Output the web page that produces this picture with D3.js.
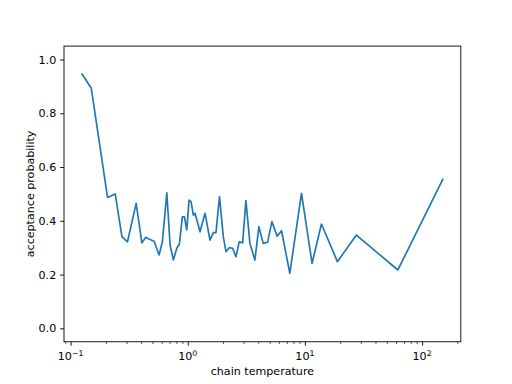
<!DOCTYPE html>
<html>
<head>
<meta charset="utf-8">
<script src="https://cdn.jsdelivr.net/npm/d3@7"></script>
<style>
body{margin:0;background:#fff;}
svg{font-family:"DejaVu Sans",sans-serif;}
</style>
</head>
<body>
<div class="canvas"></div>
<script>
// chain temperatures and acceptance probabilities
const temps = [0.1252,0.1502,0.2067,0.2404,0.2741,0.3059,0.3628,0.4058,0.4388,0.4710,
  0.5164,0.5695,0.6075,0.6626,0.7069,0.7539,0.8059,0.8482,0.8995,0.9355,
  0.9806,1.026,1.067,1.116,1.154,1.273,1.404,1.548,1.652,1.742,
  1.866,2.010,2.120,2.261,2.416,2.578,2.750,2.940,3.137,3.393,
  3.742,4.048,4.404,4.800,5.224,5.794,6.317,7.433,9.350,11.51,
  13.84,18.94,27.50,62.15,150.2];
const accept = [0.946,0.893,0.487,0.500,0.341,0.322,0.465,0.318,0.339,0.331,
  0.324,0.273,0.322,0.504,0.310,0.254,0.298,0.313,0.415,0.415,
  0.366,0.477,0.471,0.421,0.428,0.359,0.428,0.328,0.356,0.356,
  0.490,0.341,0.285,0.300,0.298,0.266,0.322,0.318,0.475,0.316,
  0.254,0.378,0.316,0.320,0.397,0.343,0.363,0.205,0.502,0.242,
  0.388,0.248,0.347,0.217,0.554];
const yTicks = [0,0.2,0.4,0.6,0.8,1.0];
const xDecades = [-1,0,1,2];

const data = temps.map((t,i)=>({t:t, p:accept[i]}));

const svg = d3.select('.canvas')
.append('svg')
    .attr('width',512)
    .attr('height',384);

const margin = {top:46.08, right:51.2, bottom:42.24, left:64};
const graphWidth = 512 - margin.left - margin.right;
const graphHeight = 384 - margin.top - margin.bottom;

const graph = svg.append('g')
.attr('transform',`translate(${margin.left},${margin.top})`);

// log x with matplotlib-style 5% margins
const lo = Math.log10(d3.min(temps)), hi = Math.log10(d3.max(temps));
const pad = (hi-lo)*0.05;
const x = d3.scaleLog()
.domain([Math.pow(10,lo-pad), Math.pow(10,hi+pad)])
.range([0,graphWidth]);
const y = d3.scaleLinear()
.domain([-0.05,1.05])
.range([graphHeight,0]);

// line
const line = d3.line()
.x(d=>x(d.t))
.y(d=>y(d.p));
graph.append('path')
.datum(data)
.attr('fill','none')
.attr('stroke','#1f77b4')
.attr('stroke-width',1.67)
.attr('stroke-linejoin','round')
.attr('stroke-linecap','square')
.attr('d',line);

// minor ticks on x
const minor = [];
xDecades.concat([-2]).forEach(k=>{
  for(let m=2;m<10;m++){
    const v = m*Math.pow(10,k);
    if(v>=x.domain()[0] && v<=x.domain()[1]) minor.push(v);
  }
});

const xAxisGroup = graph.append('g')
.attr('transform',`translate(0,${graphHeight})`);
const xMinor = d3.axisBottom(x).tickValues(minor).tickSize(2.2).tickFormat('');
xAxisGroup.append('g').call(xMinor);
const xAxis = d3.axisBottom(x)
.tickValues(xDecades.map(k=>Math.pow(10,k)))
.tickSize(3.9).tickPadding(3.9)
.tickFormat('');
xAxisGroup.append('g').call(xAxis);
xAxisGroup.selectAll('.domain').remove();
xAxisGroup.selectAll('line').attr('stroke','#000').attr('stroke-width',0.9);
xAxisGroup.selectAll('g > g.tick line').filter(function(){return +d3.select(this).attr('y2')<3;}).attr('stroke-width',0.67);

// decade labels as 10^k
const xl = xAxisGroup.selectAll('.declabel')
.data(xDecades)
.enter()
.append('text')
.attr('x',d=>x(Math.pow(10,d)))
.attr('y',18.5)
.attr('text-anchor','middle')
.attr('font-size','11.1px')
.attr('fill','#000');
xl.append('tspan').text('10');
xl.append('tspan')
.attr('dy',-4.6)
.attr('font-size','7.8px')
.text(d=>d<0 ? '\u2212'+Math.abs(d) : d);

const yAxisGroup = graph.append('g');
const yAxis = d3.axisLeft(y)
.tickValues(yTicks)
.tickSize(3.9).tickPadding(3.9)
.tickFormat(d3.format('.1f'));
yAxisGroup.call(yAxis);
yAxisGroup.select('.domain').remove();
yAxisGroup.selectAll('line').attr('stroke','#000').attr('stroke-width',0.9);
yAxisGroup.selectAll('text')
.attr('font-size','11.1px')
.attr('fill','#000')
.style('font-family','DejaVu Sans');

// spines
graph.append('rect')
.attr('width',graphWidth)
.attr('height',graphHeight)
.attr('fill','none')
.attr('stroke','#000')
.attr('stroke-width',0.9);

// axis labels
svg.append('text')
.attr('x',margin.left+graphWidth/2)
.attr('y',375)
.attr('text-anchor','middle')
.attr('font-size','11.1px')
.text('chain temperature');
svg.append('text')
.attr('transform',`translate(34,${margin.top+graphHeight/2}) rotate(-90)`)
.attr('text-anchor','middle')
.attr('font-size','11.1px')
.text('acceptance probability');
</script>
</body>
</html>
